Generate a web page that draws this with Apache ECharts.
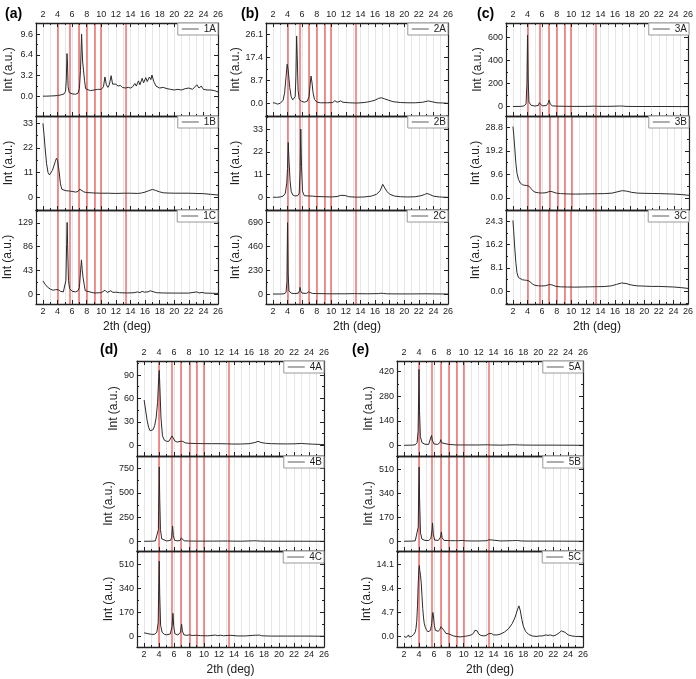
<!DOCTYPE html>
<html><head><meta charset="utf-8">
<script src="https://cdn.jsdelivr.net/npm/echarts@6/dist/echarts.min.js"></script>
<style>html,body{margin:0;padding:0;background:#fff}#c{width:696px;height:679px}</style>
</head><body><div id="c"></div>
<script>
// ---- data ----
const xTickLabels = [2,4,6,8,10,12,14,16,18,20,22,24,26];
const xMinorTicks = [3,5,7,9,11,13,15,17,19,21,23,25];
const xGridLines = [2,3,4,5,6,7,8,9,10,11,12,13,14,15,16,17,18,19,20,21,22,23,24,25];
const redLines = [4.0,5.65,6.95,8.05,9.05,9.95,13.35];
const panelLabels = ['(a)','(b)','(c)','(d)','(e)'];
const seriesNames = ['1A','1B','1C','2A','2B','2C','3A','3B','3C','4A','4B','4C','5A','5B','5C'];

const yTicks1A = [0,3.2,6.4,9.6];
const yTicks1B = [0,11,22,33];
const yTicks1C = [0,43,86,129];
const yTicks2A = [0,8.7,17.4,26.1];
const yTicks2B = [0,11,22,33];
const yTicks2C = [0,230,460,690];
const yTicks3A = [0,200,400,600];
const yTicks3B = [0,9.6,19.2,28.8];
const yTicks3C = [0,8.1,16.2,24.3];
const yTicks4A = [0,30,60,90];
const yTicks4B = [0,250,500,750];
const yTicks4C = [0,170,340,510];
const yTicks5A = [0,140,280,420];
const yTicks5B = [0,170,340,510];
const yTicks5C = [0,4.7,9.4,14.1];

const s1A = [[2.0,0.05],[2.5,0.05],[3.0,0.08],[3.5,0.1],[4.0,0.15],[4.5,0.25],[4.9,0.4],[5.1,0.8],[5.2,2.5],[5.3,6.6],[5.37,5.0],[5.45,1.5],[5.6,0.6],[6.0,0.4],[6.5,0.35],[6.8,0.5],[7.0,1.2],[7.15,4.0],[7.3,9.6],[7.38,7.0],[7.45,5.3],[7.55,5.0],[7.7,2.5],[7.85,1.2],[8.0,1.0],[8.5,0.9],[9.0,1.0],[9.5,1.1],[10.0,1.1],[10.3,1.5],[10.5,3.0],[10.7,1.8],[10.9,1.4],[11.1,1.8],[11.35,3.2],[11.55,1.9],[11.8,1.7],[12.0,1.9],[12.3,1.6],[12.6,1.7],[12.9,1.4],[13.3,1.3],[13.7,1.4],[14.0,1.3],[14.3,1.5],[14.6,2.0],[14.8,1.6],[15.1,2.4],[15.3,1.8],[15.6,2.8],[15.8,2.1],[16.1,2.9],[16.3,2.3],[16.6,3.0],[16.8,2.6],[16.95,3.3],[17.2,2.3],[17.5,1.6],[18.0,1.3],[18.5,1.4],[19.0,1.2],[19.5,1.1],[20.0,1.0],[20.5,1.1],[21.0,1.0],[21.5,1.2],[22.0,1.3],[22.5,1.1],[23.1,1.8],[23.4,1.3],[23.7,1.6],[24.0,1.1],[24.5,1.0],[25.0,1.0],[25.5,0.9],[26.0,0.7]];
const s1B = [[2.0,33],[2.15,28],[2.3,22],[2.5,15],[2.7,11],[2.9,10],[3.1,10.5],[3.3,12],[3.5,14],[3.7,16],[3.85,17.4],[4.0,16.5],[4.2,12],[4.4,6],[4.6,3.5],[4.8,3.0],[5.2,2.9],[5.6,2.8],[6.0,2.6],[6.5,2.3],[6.8,2.6],[7.05,3.6],[7.3,3.0],[7.6,2.4],[8.0,2.1],[9.0,1.9],[10.0,1.8],[11.0,1.8],[12.0,1.7],[13.0,1.8],[14.0,1.8],[15.0,1.7],[15.5,1.9],[16.0,2.3],[16.5,2.9],[17.0,3.5],[17.4,3.1],[18.0,2.4],[18.5,2.0],[19.0,1.9],[20.0,1.8],[21.0,1.8],[22.0,1.8],[23.0,1.7],[24.0,1.6],[25.0,1.3],[26.0,1.0]];
const s1C = [[2.0,24],[2.3,18],[2.6,13],[3.0,9],[3.4,7],[3.7,8],[3.9,10.5],[4.1,8],[4.4,5],[4.8,4],[5.0,6],[5.15,25],[5.25,90],[5.32,130],[5.4,80],[5.5,25],[5.65,10],[6.0,5],[6.5,4],[6.8,6],[7.0,12],[7.15,40],[7.28,62],[7.38,45],[7.5,30],[7.65,18],[7.8,6],[8.0,3],[9.0,2],[10.0,2.5],[10.5,7],[10.8,3],[11.3,6],[11.6,3],[12.0,3.5],[12.5,2.5],[13.5,2],[14.5,2.5],[15.0,4],[15.3,2.5],[15.6,5],[15.9,3.5],[16.1,6],[16.4,4],[16.7,6],[16.9,7],[17.2,4],[17.6,2.5],[18.5,2],[20.0,1.8],[22.0,1.8],[23.1,4],[23.4,2],[23.8,3],[24.2,1.8],[25.0,1.5],[26.0,1.2]];
const s2A = [[2.0,0.2],[2.3,0.1],[2.6,-0.3],[3.0,0.0],[3.2,0.3],[3.4,1.2],[3.6,4],[3.8,10],[3.95,14.8],[4.1,12.5],[4.3,6],[4.5,2.5],[4.7,1.3],[4.9,1.0],[5.05,2.5],[5.15,10],[5.25,25.5],[5.33,18],[5.45,5],[5.6,1.5],[5.9,0.8],[6.3,0.4],[6.7,0.8],[6.95,2.5],[7.1,7],[7.22,10.3],[7.35,8],[7.5,4],[7.7,1.5],[8.0,0.5],[8.5,0.2],[9.5,0.2],[10.2,0.3],[10.5,1.0],[10.8,0.4],[11.3,0.9],[11.6,0.4],[12.5,0.2],[13.5,0.1],[14.5,0.3],[15.0,0.5],[15.5,0.8],[16.0,1.2],[16.5,1.9],[16.9,2.1],[17.3,1.7],[17.8,1.2],[18.5,0.6],[19.5,0.3],[20.5,0.2],[21.5,0.2],[22.5,0.4],[23.3,0.9],[23.8,0.6],[24.5,0.2],[25.5,0.1],[26.0,0.0]];
const s2B = [[2.0,0.1],[2.5,0.0],[3.0,0.2],[3.4,0.6],[3.7,2],[3.9,7],[4.0,14],[4.1,26.5],[4.2,18],[4.35,8],[4.5,3],[4.7,1.2],[5.0,0.7],[5.4,0.8],[5.6,2],[5.72,12],[5.82,33],[5.92,15],[6.05,3],[6.3,0.8],[6.8,0.7],[7.05,1.1],[7.4,0.6],[8.0,0.4],[9.0,0.3],[10.0,0.2],[10.8,0.4],[11.3,1.0],[11.55,1.7],[11.9,0.9],[12.4,0.3],[13.5,0.1],[14.5,0.2],[15.5,0.6],[16.2,1.5],[16.7,3.2],[17.05,6.3],[17.25,5.5],[17.6,3],[18.0,1.5],[18.7,0.6],[19.5,0.3],[20.5,0.2],[21.5,0.3],[22.3,0.8],[22.8,1.4],[23.1,1.9],[23.5,1.4],[24.0,0.6],[24.8,0.2],[26.0,0.0]];
const s2C = [[2.0,0],[3.0,0],[3.5,2],[3.8,15],[3.92,120],[4.0,686],[4.08,200],[4.2,30],[4.5,8],[5.0,4],[5.5,8],[5.65,35],[5.72,64],[5.8,30],[6.0,8],[6.6,6],[6.9,20],[7.0,38],[7.1,20],[7.4,6],[8.0,4],[9.0,3],[10,2],[12,2],[13.2,4],[13.4,10],[13.6,3],[15,2],[16.5,4],[16.8,8],[17.2,5],[17.6,2],[19,1],[21,1],[23,2],[24,1],[26,0]];
const s3A = [[2.0,2],[3.0,3],[3.5,6],[3.8,25],[3.92,200],[4.0,620],[4.08,250],[4.2,40],[4.5,12],[5.0,6],[5.5,12],[5.62,35],[5.7,52],[5.8,25],[6.0,8],[6.6,10],[6.85,35],[6.97,58],[7.1,25],[7.4,8],[8.0,5],[9.0,4],[10,3],[12,3],[13.1,5],[13.3,12],[13.5,4],[15,3],[16.6,6],[16.85,11],[17.0,6],[17.2,9],[17.5,3],[19,2],[21,2],[23,2],[26,1]];
const s3B = [[2.0,29.1],[2.1,26],[2.25,20],[2.4,14],[2.55,10],[2.75,7.5],[3.0,6.0],[3.3,5.3],[3.6,5.1],[3.9,5.0],[4.2,4.7],[4.45,3.8],[4.7,2.9],[5.0,2.3],[5.5,2.0],[6.0,1.95],[6.5,2.05],[6.9,2.5],[7.2,2.6],[7.5,2.3],[7.9,1.9],[8.5,1.7],[9.5,1.55],[10.5,1.5],[11.5,1.55],[12.5,1.6],[13.5,1.65],[14.5,1.7],[15.5,1.9],[16.2,2.4],[16.9,2.9],[17.5,2.7],[18.2,2.2],[19.0,1.9],[20.0,1.8],[21.0,1.75],[22.0,1.7],[23.0,1.6],[24.0,1.5],[25.0,1.3],[26.0,1.0]];
const s3C = [[2.0,24.6],[2.1,21],[2.25,15],[2.4,10],[2.55,6.5],[2.75,4.8],[3.0,4.2],[3.3,4.0],[3.6,3.9],[3.9,3.8],[4.2,3.6],[4.45,3.1],[4.7,2.5],[5.0,2.1],[5.5,1.9],[6.0,1.85],[6.5,1.95],[6.9,2.3],[7.2,2.3],[7.5,2.1],[7.9,1.7],[8.5,1.55],[9.5,1.5],[10.5,1.45],[11.5,1.5],[12.5,1.55],[13.5,1.6],[14.5,1.65],[15.5,1.9],[16.2,2.4],[16.9,2.9],[17.5,2.7],[18.2,2.2],[19.0,1.9],[20.0,1.8],[21.0,1.7],[22.0,1.7],[23.0,1.6],[24.0,1.5],[25.0,1.3],[26.0,1.0]];
const s4A = [[2.0,58],[2.2,45],[2.4,32],[2.6,23],[2.8,18.5],[3.0,18],[3.2,20],[3.4,25],[3.6,35],[3.8,55],[3.95,88],[4.02,96],[4.1,75],[4.25,35],[4.45,12],[4.7,6.5],[5.0,5],[5.3,5],[5.55,7],[5.72,12],[5.8,14],[5.9,10],[6.1,5.5],[6.4,4],[6.8,5],[7.0,7],[7.15,5],[7.5,3],[8.0,2.5],[9.0,2.2],[10,2],[11,2],[12,2],[13,1.8],[14,1.5],[15,1.6],[16,2],[16.8,3.5],[17.2,5],[17.6,3.5],[18.2,2.5],[19,2],[20,1.8],[21,1.7],[22,1.8],[23,2.3],[23.5,1.9],[24.5,1.4],[25.5,1.0],[26,0.8]];
const s4B = [[2.0,0],[3.0,1],[3.5,4],[3.75,20],[3.9,120],[3.97,500],[4.02,767],[4.08,450],[4.18,120],[4.35,25],[4.6,8],[5.0,4],[5.5,8],[5.68,40],[5.8,158],[5.9,60],[6.05,12],[6.4,4],[6.8,8],[6.95,35],[7.02,52],[7.12,20],[7.35,5],[8,3],[9,2],[11,2],[13.1,3],[13.35,9],[13.6,2],[15,1],[16.6,5],[16.8,8],[17.0,5],[17.2,8],[17.5,2],[19,1],[22,1],[26,0]];
const s4C = [[2.0,26],[2.5,20],[3.0,15],[3.4,16],[3.7,30],[3.88,100],[3.96,380],[4.02,531],[4.08,300],[4.2,80],[4.4,30],[4.7,15],[5.0,12],[5.5,18],[5.72,70],[5.85,164],[5.95,70],[6.1,20],[6.5,10],[6.85,30],[7.0,87],[7.1,40],[7.3,12],[7.7,8],[8.05,12],[8.4,7],[9.0,9],[9.5,6],[10.5,5],[11.5,10],[11.8,6],[12.2,9],[12.6,5],[13.2,8],[13.4,20],[13.6,8],[14.5,4],[15.5,4],[16.5,8],[16.7,12],[16.9,9],[17.1,14],[17.4,10],[17.7,5],[19,3],[21,3],[23,3],[24,3],[26,2]];
const s5A = [[2.0,0],[3.0,1],[3.5,3],[3.75,15],[3.88,80],[3.96,300],[4.0,433],[4.07,200],[4.18,50],[4.4,15],[4.8,6],[5.3,5],[5.55,15],[5.68,57],[5.78,30],[6.0,8],[6.5,5],[6.8,15],[6.92,32],[7.05,14],[7.3,5],[8.0,5],[8.2,3],[9,2],[10,2],[12,2],[13.1,3],[13.35,7],[13.6,2],[15,1],[16.6,3],[16.85,5],[17.05,3],[17.25,6],[17.5,2],[19,1],[22,1],[26,0]];
const s5B = [[2.0,0],[3.0,1],[3.5,3],[3.75,15],[3.9,100],[3.97,400],[4.02,526],[4.08,300],[4.2,60],[4.4,15],[4.8,6],[5.3,5],[5.6,20],[5.75,80],[5.82,130],[5.92,50],[6.1,8],[6.6,6],[6.9,30],[7.0,66],[7.1,25],[7.35,6],[7.9,5],[8.05,12],[8.2,4],[8.9,4],[9.1,11],[9.3,4],[9.9,6],[10.2,3],[11,2],[12,2],[13.1,4],[13.4,11],[13.65,3],[15,2],[16.5,4],[16.7,9],[16.9,5],[17.05,11],[17.25,5],[17.4,8],[17.7,2],[19,1],[22,1],[26,0]];
const s5C = [[2.0,0.0],[2.1,-0.3],[2.2,0.2],[2.3,-0.2],[2.4,0.1],[2.5,-0.1],[2.6,0.3],[2.7,-0.1],[2.8,0.1],[2.9,0.2],[3.0,0.0],[3.1,0.3],[3.2,0.1],[3.3,0.4],[3.4,0.5],[3.5,0.9],[3.6,1.6],[3.7,3.0],[3.8,6.0],[3.9,10.5],[4.0,13.5],[4.05,13.9],[4.1,13.0],[4.2,12.0],[4.3,10.5],[4.4,8.0],[4.5,5.5],[4.6,3.8],[4.7,2.6],[4.85,1.8],[5.0,1.3],[5.2,0.9],[5.4,0.9],[5.55,1.2],[5.7,2.5],[5.8,4.2],[5.87,4.7],[5.95,3.8],[6.05,2.2],[6.2,1.2],[6.4,0.9],[6.6,1.0],[6.8,1.4],[6.95,1.9],[7.05,2.1],[7.2,1.8],[7.4,1.1],[7.6,0.6],[7.8,0.4],[8.0,0.5],[8.1,0.6],[8.3,0.3],[8.6,0.1],[9.0,0.0],[9.5,-0.1],[10.0,0.0],[10.5,0.1],[11.0,0.3],[11.3,0.6],[11.5,1.2],[11.65,1.5],[11.8,1.1],[12.0,0.5],[12.3,0.2],[12.7,0.1],[13.0,0.2],[13.3,0.5],[13.5,0.8],[13.7,0.6],[14.0,0.3],[14.5,0.3],[15.0,0.5],[15.5,0.9],[16.0,1.5],[16.5,2.5],[16.9,3.8],[17.2,5.2],[17.4,6.0],[17.6,5.0],[17.8,3.3],[18.0,2.0],[18.3,1.0],[18.7,0.4],[19.2,0.1],[19.7,0.0],[20.2,0.1],[20.6,0.1],[21.0,0.3],[21.3,0.2],[21.6,0.3],[22.0,0.1],[22.4,0.3],[22.8,0.7],[23.1,1.1],[23.3,1.2],[23.6,0.8],[24.0,0.3],[24.5,0.1],[25.0,0.0],[25.5,0.0],[26.0,-0.1]];

const seriesData = [s1A,s1B,s1C,s2A,s2B,s2C,s3A,s3B,s3C,s4A,s4B,s4C,s5A,s5B,s5C];
const yTickSets = [yTicks1A,yTicks1B,yTicks1C,yTicks2A,yTicks2B,yTicks2C,yTicks3A,yTicks3B,yTicks3C,yTicks4A,yTicks4B,yTicks4C,yTicks5A,yTicks5B,yTicks5C];
// axis ranges (value extents of each plot box)
const yMins = [-3.0,-5.7,-18, -4.8,-6.1,-96, -80,-5.0,-4.4, -13.8,-100,-74, -61,-69,-2.07];
const yMaxs = [11.3,36.3,152.6, 30.4,39.3,808, 724,33.4,28.2, 108,880,603, 481,604,16.75];
const yDecimals = [1,0,0, 1,0,0, 0,1,1, 0,0,0, 0,0,1];
const XMIN = 1.05, XMAX = 26;

// ---- layout ----
const W = 696;
const layout = [
  {left:36,  width:182, tops:[23,116,210], heights:[93,94,94], lx:5,   ly:7,   yGap:21},
  {left:266, width:182, tops:[23,116,210], heights:[93,94,94], lx:241, ly:7,   yGap:24},
  {left:506, width:183, tops:[23,116,210], heights:[93,94,94], lx:477, ly:7,   yGap:19},
  {left:137, width:187, tops:[361,456,551], heights:[95,95,96], lx:100, ly:343, yGap:16},
  {left:397, width:186, tops:[361,456,551], heights:[95,95,96], lx:352, ly:343, yGap:21}
];
const FONT = 'Liberation Sans, Arial, sans-serif';
const INK = '#222';

const grid=[], xAxis=[], yAxis=[], series=[], legend=[], title=[];
layout.forEach((p,pi)=>{
  title.push({text:panelLabels[pi], left:p.lx, top:p.ly, padding:0,
    textStyle:{fontSize:14,fontWeight:'bold',color:'#000',fontFamily:FONT}});
  for (let s=0;s<3;s++){
    const k = pi*3+s;
    const gi = grid.length;
    grid.push({left:p.left, top:p.tops[s], width:p.width, height:p.heights[s]});
    const ticks = yTickSets[k];
    const step = ticks[1]-ticks[0];
    const yMinor = [];
    for (let v=-step/2; v<=yMaxs[k]; v+=step){ if (v>=yMins[k]) yMinor.push(+v.toFixed(4)); }
    const xBase = {type:'value', gridIndex:gi, min:XMIN, max:XMAX, splitLine:{show:false}, z:10,
      axisLine:{onZero:false, lineStyle:{color:INK,width:1.3}}};
    const xi = xAxis.length;
    const topTicks = s===0;
    const xLab = show => ({show, customValues:xTickLabels, fontSize:9, margin:3, color:INK, fontFamily:FONT});
    xAxis.push(Object.assign({}, xBase, {position:'bottom',
      axisTick:{inside:true,length:4,customValues:xTickLabels,lineStyle:{color:INK}},
      axisLabel:xLab(s===2),
      name: s===2 ? '2th (deg)' : '', nameLocation:'middle', nameGap:17,
      nameTextStyle:{fontSize:12,color:INK,fontFamily:FONT}}));
    xAxis.push(Object.assign({}, xBase, {position:'top',
      axisTick:{show:topTicks,inside:true,length:4,customValues:xTickLabels,lineStyle:{color:INK}},
      axisLabel:Object.assign(xLab(s===0),{margin:4})}));
    xAxis.push(Object.assign({}, xBase, {position:'bottom', axisLine:{show:false,onZero:false},
      axisTick:{inside:true,length:2,customValues:xMinorTicks,lineStyle:{color:INK}}, axisLabel:{show:false}}));
    xAxis.push(Object.assign({}, xBase, {position:'top', axisLine:{show:false,onZero:false},
      axisTick:{show:topTicks,inside:true,length:2,customValues:xMinorTicks,lineStyle:{color:INK}}, axisLabel:{show:false}}));

    const yBase = {type:'value', gridIndex:gi, min:yMins[k], max:yMaxs[k], splitLine:{show:false}, z:10,
      axisLine:{onZero:false, lineStyle:{color:INK,width:1.2}}};
    const yi = yAxis.length;
    const dec = yDecimals[k];
    yAxis.push(Object.assign({}, yBase, {position:'left',
      axisTick:{inside:true,length:4,customValues:ticks,lineStyle:{color:INK}},
      axisLabel:{show:true, customValues:ticks, fontSize:9, margin:3, color:INK, fontFamily:FONT,
        formatter:v=>Number(v).toFixed(dec)},
      name:'Int (a.u.)', nameLocation:'middle', nameGap:p.yGap,
      nameTextStyle:{fontSize:12,color:INK,fontFamily:FONT}}));
    yAxis.push(Object.assign({}, yBase, {position:'right',
      axisTick:{inside:true,length:4,customValues:ticks,lineStyle:{color:INK}}, axisLabel:{show:false}}));
    yAxis.push(Object.assign({}, yBase, {position:'left', axisLine:{show:false,onZero:false},
      axisTick:{inside:true,length:2,customValues:yMinor,lineStyle:{color:INK}}, axisLabel:{show:false}}));
    yAxis.push(Object.assign({}, yBase, {position:'right', axisLine:{show:false,onZero:false},
      axisTick:{inside:true,length:2,customValues:yMinor,lineStyle:{color:INK}}, axisLabel:{show:false}}));

    // background grid lines
    series.push({type:'line', xAxisIndex:xi, yAxisIndex:yi, data:[], silent:true, z:1,
      markLine:{silent:true, symbol:'none', label:{show:false}, animation:false,
        lineStyle:{color:'#e6e6e6', width:1, type:'solid'},
        data: xGridLines.map(v=>({xAxis:v}))}});
    // red reference lines
    series.push({type:'line', xAxisIndex:xi, yAxisIndex:yi, data:[], silent:true, z:2,
      markLine:{silent:true, symbol:'none', label:{show:false}, animation:false,
        lineStyle:{color:'rgba(236,50,50,0.7)', width:1.5, type:'solid'},
        data: redLines.map(v=>({xAxis:v}))}});
    series.push({type:'line', name:seriesNames[k], xAxisIndex:xi, yAxisIndex:yi, data:seriesData[k],
      symbol:'none', showSymbol:false, z:5, animation:false,
      lineStyle:{color:'#2b2b2b', width:1}, itemStyle:{color:'#2b2b2b'}});

    legend.push({data:[{name:seriesNames[k], icon:'rect', itemStyle:{color:'#777'}}],
      right: W-(p.left+p.width), top:p.tops[s], orient:'horizontal', z:12,
      borderColor:'#9a9a9a', borderWidth:1, borderRadius:0, backgroundColor:'#fff',
      padding:[1,2,1,4], itemWidth:17, itemHeight:1.2, itemGap:2, selectedMode:false,
      textStyle:{fontSize:10,color:INK,fontFamily:FONT}});
  }
});

const chart = echarts.init(document.getElementById('c'), null, {renderer:'canvas'});
chart.setOption({animation:false, backgroundColor:'#fff', title, grid, xAxis, yAxis, series, legend});
</script></body></html>
